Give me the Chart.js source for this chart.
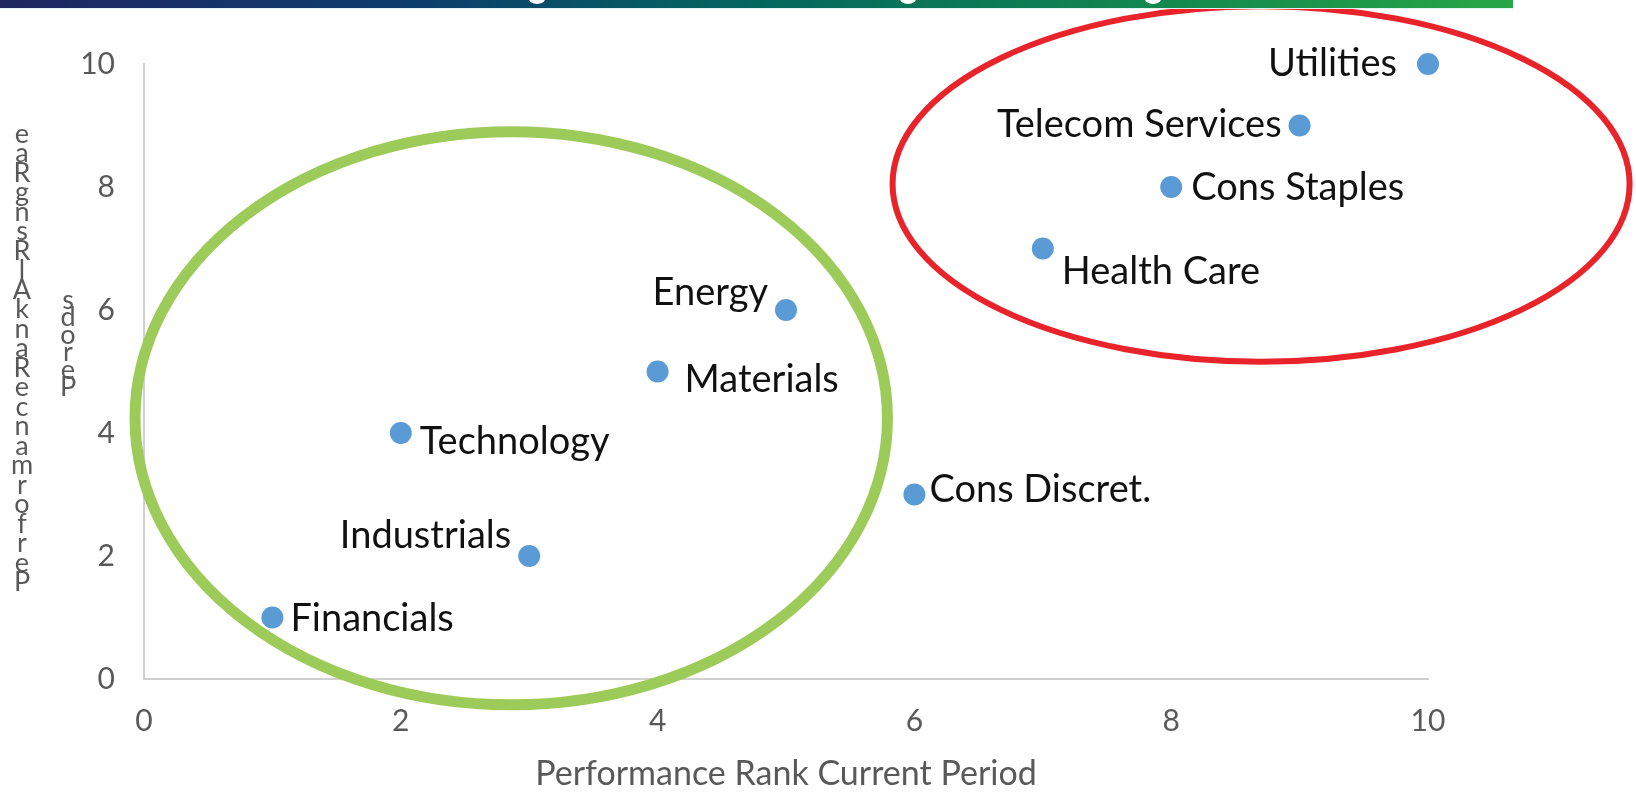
<!DOCTYPE html>
<html>
<head>
<meta charset="utf-8">
<script src="https://cdn.jsdelivr.net/npm/chart.js@4/dist/chart.umd.min.js"></script>
<style>
  body { margin: 0; background: #fff; }
  #wrap { width: 1636px; height: 794px; }
</style>
</head>
<body>
<div id="wrap"><canvas id="chart" width="1636" height="794"></canvas></div>
<script>
// data
const sectors = ['Financials', 'Technology', 'Industrials', 'Materials', 'Energy',
  'Cons Discret.', 'Health Care', 'Cons Staples', 'Telecom Services', 'Utilities'];
const currentRank = [1, 2, 3, 4, 5, 6, 7, 8, 9, 10];
const priorRank = [1, 4, 2, 5, 6, 3, 7, 8, 9, 10];
const xTitle = 'Performance Rank Current Period';
// the y title shows up as garbled stacked letters in the picture
const yTitleCol1 = 'PerformanceRankAlRsngRae';
const yTitleCol2 = 'Perods';

// where each label sits next to its dot (dx, dy of baseline, align)
const labelPos = {
  'Financials': [18, 13, 'left'],
  'Technology': [19, 21, 'left'],
  'Industrials': [-18, -8, 'right'],
  'Materials': [27, 20, 'left'],
  'Energy': [-18, -5, 'right'],
  'Cons Discret.': [15, 7, 'left'],
  'Health Care': [19, 35, 'left'],
  'Cons Staples': [20, 13, 'left'],
  'Telecom Services': [-18, 11, 'right'],
  'Utilities': [-31, 12, 'right']
};

// the two hand drawn rings, in axis units
const rings = [
  { cx: 2.86, cy: 4.24, rx: 2.93, ry: 4.66, color: '#9ccb5a', width: 11 },
  { cx: 8.70, cy: 8.05, rx: 2.87, ry: 2.89, color: '#e8232a', width: 6 }
];

const points = currentRank.map((x, i) => ({ x: x, y: priorRank[i] }));

const ringPlugin = {
  id: 'rings',
  beforeDatasetsDraw(chart) {
    const ctx = chart.ctx;
    const xs = chart.scales.x, ys = chart.scales.y;
    rings.forEach(r => {
      const cx = xs.getPixelForValue(r.cx);
      const cy = ys.getPixelForValue(r.cy);
      const rx = Math.abs(xs.getPixelForValue(r.cx + r.rx) - cx);
      const ry = Math.abs(ys.getPixelForValue(r.cy + r.ry) - cy);
      ctx.save();
      ctx.beginPath();
      ctx.ellipse(cx, cy, rx, ry, 0, 0, Math.PI * 2);
      ctx.strokeStyle = r.color;
      ctx.lineWidth = r.width;
      ctx.stroke();
      ctx.restore();
    });
  }
};

const labelPlugin = {
  id: 'pointLabels',
  afterDatasetsDraw(chart) {
    const ctx = chart.ctx;
    const meta = chart.getDatasetMeta(0);
    ctx.save();
    ctx.font = '38px Lato';
    ctx.fillStyle = '#111111';
    ctx.textBaseline = 'alphabetic';
    meta.data.forEach((el, i) => {
      const p = labelPos[sectors[i]];
      ctx.textAlign = p[2];
      ctx.fillText(sectors[i], el.x + p[0], el.y + p[1]);
    });
    ctx.restore();
  }
};

const extrasPlugin = {
  id: 'extras',
  afterDraw(chart) {
    const ctx = chart.ctx;
    ctx.save();
    // banner strip at the top
    const g = ctx.createLinearGradient(0, 0, 1513, 0);
    g.addColorStop(0, '#1f2660');
    g.addColorStop(0.28, '#0c3f6c');
    g.addColorStop(0.5, '#04675f');
    g.addColorStop(0.75, '#12864f');
    g.addColorStop(1, '#27a646');
    ctx.fillStyle = g;
    ctx.fillRect(0, 0, 1513, 8);
    ctx.fillStyle = '#dff4f2';
    ctx.fillRect(0, 8, 1513, 1);
    ctx.fillStyle = '#ffffff';
    [537, 908, 1153].forEach(x => {
      ctx.beginPath();
      ctx.ellipse(x, -1, 8, 5, 0, 0, Math.PI * 2);
      ctx.fill();
    });
    // stacked y title letters
    ctx.font = '27px Lato';
    ctx.fillStyle = '#595959';
    ctx.textAlign = 'center';
    ctx.textBaseline = 'middle';
    const c1 = yTitleCol1.split('').reverse();
    c1.forEach((ch, i) => ctx.fillText(ch, 22, 134 + i * 19.5));
    const c2 = yTitleCol2.split('').reverse();
    c2.forEach((ch, i) => ctx.fillText(ch, 68, 300 + i * 17.5));
    ctx.restore();
  }
};

const ctx = document.getElementById('chart').getContext('2d');
new Chart(ctx, {
  type: 'scatter',
  data: {
    datasets: [{
      label: 'Sectors',
      data: points,
      backgroundColor: '#5b9bd5',
      borderWidth: 0,
      pointRadius: 11,
      pointHoverRadius: 11,
      clip: false
    }]
  },
  options: {
    responsive: false,
    animation: false,
    layout: { padding: { top: 64, right: 208, bottom: 0, left: 0 } },
    plugins: {
      legend: { display: false },
      tooltip: { enabled: false }
    },
    scales: {
      x: {
        type: 'linear',
        min: 0,
        max: 10,
        afterFit: s => { s.height = 115; },
        grid: { display: true, color: 'rgba(0,0,0,0)', drawTicks: false },
        border: { display: true, color: '#d0d0d0', width: 2 },
        ticks: { stepSize: 2, padding: 24, color: '#595959', font: { family: 'Lato', size: 30 } },
        title: { display: true, text: xTitle, color: '#595959', padding: { top: 0, bottom: 0 }, font: { family: 'Lato', size: 34 } }
      },
      y: {
        type: 'linear',
        min: 0,
        max: 10,
        afterFit: s => { s.width = 144; },
        grid: { display: true, color: 'rgba(0,0,0,0)', drawTicks: false },
        border: { display: true, color: '#d0d0d0', width: 2 },
        ticks: { stepSize: 2, padding: 29, color: '#595959', font: { family: 'Lato', size: 30 } }
      }
    }
  },
  plugins: [ringPlugin, labelPlugin, extrasPlugin]
});
</script>
</body>
</html>
